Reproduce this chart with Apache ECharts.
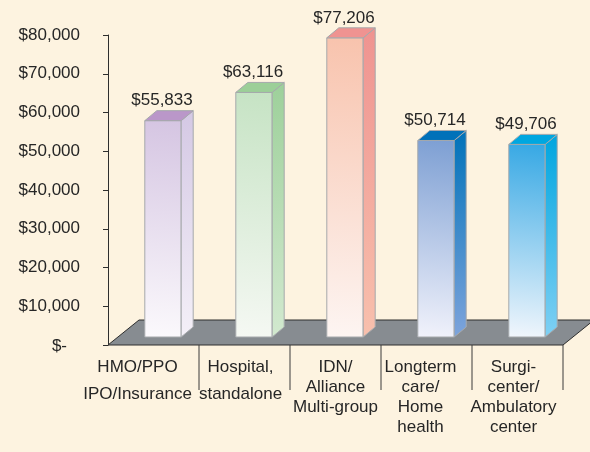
<!DOCTYPE html>
<html>
<head>
<meta charset="utf-8">
<script src="https://cdn.jsdelivr.net/npm/echarts@6/dist/echarts.min.js"></script>
<style>
html,body{margin:0;padding:0;background:#fdf3e0;}
#c{width:590px;height:452px;}
</style>
</head>
<body>
<div id="c"></div>
<script>
// ---- data ----
const categories = [
  ['HMO/PPO', 'IPO/Insurance'],
  ['Hospital,', 'standalone'],
  ['IDN/', 'Alliance', 'Multi-group'],
  ['Longterm', 'care/', 'Home', 'health'],
  ['Surgi-', 'center/', 'Ambulatory', 'center']
];
const salaries = [55833, 63116, 77206, 50714, 49706];
const yTicks = [0, 10000, 20000, 30000, 40000, 50000, 60000, 70000, 80000];

// ---- styles / layout ----
const palette = [
  {top:'#ba97c9', frontTop:'#d5c5e2', frontBot:'#fbf9fc', sideTop:'#d4c8e4', sideBot:'#f4f0f8'},
  {top:'#9ccf98', frontTop:'#c6e3c4', frontBot:'#f5f8f3', sideTop:'#9dd09a', sideBot:'#d2e9cf'},
  {top:'#ef9391', frontTop:'#f8c3ad', frontBot:'#fdf5f2', sideTop:'#ef9390', sideBot:'#f8c0ad'},
  {top:'#0071b9', frontTop:'#7d9fd3', frontBot:'#f1f2fb', sideTop:'#0072b9', sideBot:'#7ea4dc'},
  {top:'#00a7e0', frontTop:'#36a8e4', frontBot:'#f1f6fc', sideTop:'#00a5df', sideBot:'#7fd0f4'}
];
const labelLineHeight = [27, 27, 20, 20, 20];
const labelShift = [-16, -4, 0, -6, -4];
const FONT = '"Liberation Sans", Arial, Helvetica, sans-serif';
const TXT = '#262626';
const depth = [31, -25];      // floor depth
const plane = [9.5, -8];      // bar plane offset from front edge
const side = [12, -10];       // bar thickness
const fmt = v => '$' + v.toLocaleString('en-US');

const chart = echarts.init(document.getElementById('c'), null, {renderer:'canvas'});

function floorItem(params, api) {
  const n = categories.length;
  const bw = api.size([1, 0])[0];
  const a = api.coord([0, 0]);
  const b = api.coord([n - 1, 0]);
  const x0 = a[0] - bw / 2, x1 = b[0] + bw / 2, y0 = a[1];
  const children = [{
    type: 'polygon',
    shape: {points: [[x0, y0], [x1, y0], [x1 + depth[0], y0 + depth[1]], [x0 + depth[0], y0 + depth[1]]]},
    style: {fill: '#878c91', stroke: '#2e2e2e', lineWidth: 1}
  }];
  return {type: 'group', children};
}

function barItem(params, api) {
  const i = api.value(0), v = api.value(1);
  const base = api.coord([i, 0]);
  const top = api.coord([i, v]);
  const bw = api.size([1, 0])[0];
  const w = bw * 0.4;
  const xl = base[0] + plane[0] - w / 2, xr = xl + w;
  const yb = base[1] + plane[1], yt = top[1] + plane[1];
  const p = palette[i];
  const stroke = '#a6a9ac';
  const children = [
    {
      type: 'rect',
      shape: {x: xl, y: yt, width: w, height: yb - yt},
      style: {
        fill: new echarts.graphic.LinearGradient(0.2, 1, 0.8, 0, [
          {offset: 0, color: p.frontBot}, {offset: 1, color: p.frontTop}
        ]),
        stroke, lineWidth: 1
      }
    },
    {
      type: 'polygon',
      shape: {points: [[xr, yt], [xr + side[0], yt + side[1]], [xr + side[0], yb + side[1]], [xr, yb]]},
      style: {
        fill: new echarts.graphic.LinearGradient(0, 1, 0, 0, [
          {offset: 0, color: p.sideBot}, {offset: 1, color: p.sideTop}
        ]),
        stroke, lineWidth: 1
      }
    },
    {
      type: 'polygon',
      shape: {points: [[xl, yt], [xl + side[0], yt + side[1]], [xr + side[0], yt + side[1]], [xr, yt]]},
      style: {fill: p.top, stroke, lineWidth: 1}
    },
    {
      type: 'text',
      style: {
        x: (xl + xr) / 2 - 1, y: yt - 20, text: fmt(v),
        font: '17px ' + FONT, fill: TXT, align: 'center', verticalAlign: 'middle'
      }
    },
    {
      type: 'line',
      shape: {x1: base[0] + bw / 2, y1: base[1], x2: base[0] + bw / 2, y2: base[1] + 45},
      style: {stroke: '#3a3a3a', lineWidth: 1}
    },
    {
      type: 'text',
      style: {
        x: base[0] + labelShift[i], y: base[1] + 22 - labelLineHeight[i] / 2,
        text: categories[i].join('\n'),
        font: '17px ' + FONT, fill: TXT, align: 'center', verticalAlign: 'top',
        lineHeight: labelLineHeight[i]
      }
    }
  ];
  return {type: 'group', children};
}

chart.setOption({
  backgroundColor: '#fdf3e0',
  animation: false,
  grid: {left: 108, right: 27, top: 35, bottom: 107},
  xAxis: {
    type: 'category',
    data: categories.map(c => c.join(' ')),
    axisLine: {show: false},
    axisTick: {show: false},
    axisLabel: {show: false},
    splitLine: {show: false}
  },
  yAxis: {
    type: 'value',
    min: yTicks[0], max: yTicks[yTicks.length - 1], interval: yTicks[1] - yTicks[0],
    axisLine: {show: true, lineStyle: {color: '#2e2e2e', width: 1}},
    axisTick: {show: true, length: 5, lineStyle: {color: '#2e2e2e'}},
    splitLine: {show: false},
    axisLabel: {
      margin: 28, fontSize: 17, fontFamily: FONT, color: TXT,
      formatter: v => v === 0 ? '{z|$-}' : fmt(v),
      rich: {z: {fontSize: 17, fontFamily: FONT, color: TXT, padding: [3, 13, 0, 0]}}
    }
  },
  series: [
    {type: 'custom', renderItem: floorItem, data: [[0, 0]], z: 1, silent: true, clip: false},
    {type: 'custom', renderItem: barItem, data: salaries.map((v, i) => [i, v]), z: 2, silent: true, clip: false}
  ]
});
</script>
</body>
</html>
